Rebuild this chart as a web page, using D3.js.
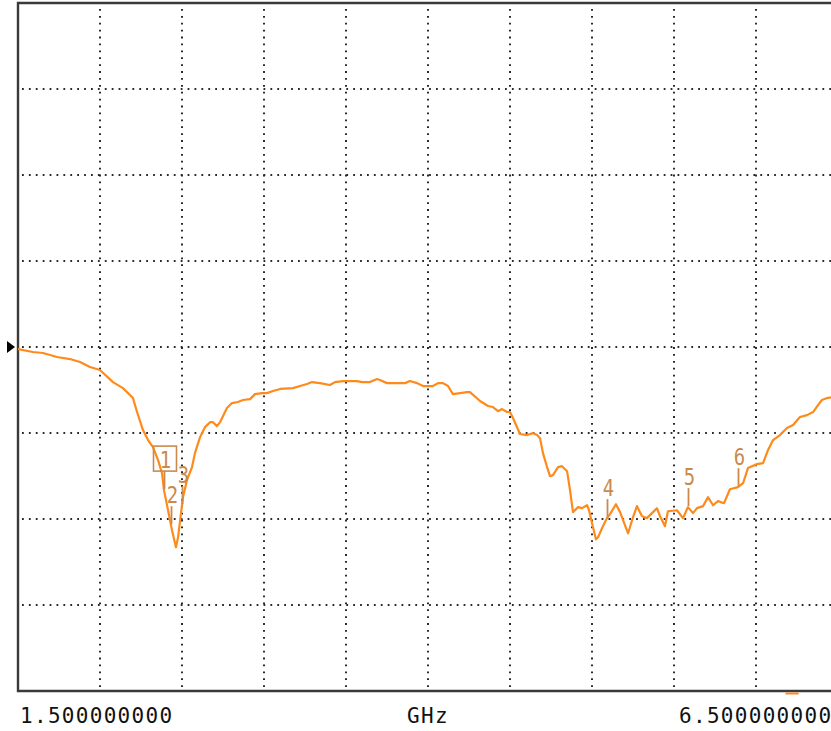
<!DOCTYPE html>
<html>
<head>
<meta charset="utf-8">
<script src="https://cdn.jsdelivr.net/npm/d3@7"></script>
<style>
  body { margin: 0; background: #fff; }
  svg { display: block; }
</style>
</head>
<body>
<div id="chart"></div>
<script>
// trace, frequency in GHz, level in dB (ref line = 0, 5 dB/div)
const freqGHz = [
  1.500, 1.591, 1.652, 1.738, 1.817, 1.878, 1.939, 2.000, 2.079, 2.140,
  2.201, 2.226, 2.262, 2.293, 2.323, 2.354, 2.378, 2.390, 2.415, 2.439,
  2.463, 2.476, 2.494, 2.506, 2.530, 2.561, 2.579, 2.610, 2.640, 2.671,
  2.689, 2.713, 2.732, 2.774, 2.805, 2.841, 2.872, 2.915, 2.945, 2.988,
  3.018, 3.055, 3.098, 3.177, 3.220, 3.262, 3.293, 3.341, 3.402, 3.433,
  3.482, 3.567, 3.598, 3.646, 3.689, 3.707, 3.750, 3.860, 3.890, 3.933,
  3.970, 4.030, 4.061, 4.091, 4.122, 4.152, 4.195, 4.238, 4.256, 4.317,
  4.366, 4.396, 4.427, 4.451, 4.482, 4.500, 4.518, 4.561, 4.604, 4.640,
  4.665, 4.683, 4.701, 4.726, 4.744, 4.762, 4.793, 4.817, 4.848, 4.866,
  4.884, 4.915, 4.939, 4.970, 4.982, 5.000, 5.024, 5.037, 5.061, 5.091,
  5.110, 5.146, 5.171, 5.220, 5.250, 5.274, 5.305, 5.335, 5.366, 5.396,
  5.415, 5.445, 5.463, 5.518, 5.555, 5.585, 5.616, 5.640, 5.677, 5.707,
  5.738, 5.768, 5.805, 5.841, 5.890, 5.921, 5.951, 6.006, 6.043, 6.073,
  6.104, 6.146, 6.189, 6.226, 6.268, 6.311, 6.348, 6.378, 6.402, 6.433,
  6.470, 6.500
]
const levelDb = [
  -0.12, -0.29, -0.35, -0.58, -0.70, -0.87, -1.16, -1.34, -2.04, -2.39,
  -2.97, -3.78, -4.83, -5.41, -5.82, -6.58, -7.33, -8.32, -9.49, -10.65,
  -11.64, -11.06, -9.66, -8.73, -7.74, -6.98, -6.17, -5.24, -4.66, -4.37,
  -4.37, -4.60, -4.37, -3.55, -3.26, -3.20, -3.08, -3.03, -2.74, -2.68,
  -2.68, -2.56, -2.44, -2.39, -2.27, -2.15, -2.04, -2.10, -2.21, -2.04,
  -1.98, -1.98, -2.04, -2.04, -1.86, -1.92, -2.10, -2.10, -1.98, -2.10,
  -2.27, -2.27, -2.10, -2.10, -2.27, -2.74, -2.68, -2.62, -2.62, -3.14,
  -3.43, -3.49, -3.73, -3.61, -3.78, -3.78, -4.13, -5.06, -5.12, -5.01,
  -5.12, -5.30, -6.17, -6.98, -7.51, -7.45, -6.98, -6.93, -7.22, -8.32,
  -9.60, -9.31, -9.37, -9.20, -9.49, -10.24, -11.18, -11.06, -10.54, -9.95,
  -9.72, -9.14, -9.60, -10.83, -9.90, -9.25, -9.84, -9.95, -9.66, -9.37,
  -9.84, -10.42, -9.55, -9.49, -9.95, -9.31, -9.66, -9.37, -9.25, -8.73,
  -9.20, -8.96, -9.08, -8.27, -8.15, -7.92, -7.04, -6.81, -6.75, -6.00,
  -5.41, -5.12, -4.71, -4.54, -4.07, -3.96, -3.78, -3.38, -3.08, -2.97,
  -2.91, -2.79
]

const markerIds = ["1", "2", "3", "4", "5", "6"]
const markerGHz = [2.390, 2.433, 2.500, 5.091, 5.585, 5.890]

const startLabel = "1.500000000"
const stopLabel = "6.500000000"
const unitLabel = "GHz"

const W = 831, H = 731
const TRACE = "#ff8a1c"
const MARK = "#c98a4c"
const MONO = "'DejaVu Sans Mono', monospace"

const svg = d3.select("#chart").append("svg")
    .attr("width", W)
    .attr("height", H)

// plot area runs off the right edge like the screenshot
const plotL = 18, plotR = 838, plotT = 3, plotB = 691

const x = d3.scaleLinear().domain([1.5, 6.5]).range([plotL, plotR])
const y = d3.scaleLinear().domain([-20, 20]).range([plotB, plotT])

//dotted grid
const grid = svg.append("g")
    .attr("stroke", "#2a2a2a")
    .attr("stroke-width", 2)
    .attr("stroke-dasharray", "1.8 5.1")

grid.selectAll("line.v")
    .data(d3.range(1, 10).map(i => 1.5 + i * 0.5))
    .join("line")
    .attr("class", "v")
    .attr("x1", d => x(d)).attr("x2", d => x(d))
    .attr("y1", plotT + 6).attr("y2", plotB)

grid.selectAll("line.h")
    .data(d3.range(1, 8).map(i => -20 + i * 5))
    .join("line")
    .attr("class", "h")
    .attr("x1", plotL + 4).attr("x2", W)
    .attr("y1", d => y(d)).attr("y2", d => y(d))

//frame
svg.append("path")
    .attr("d", `M${plotR},${plotT}H${plotL}V${plotB}H${plotR}`)
    .attr("fill", "none")
    .attr("stroke", "#3a3a3a")
    .attr("stroke-width", 2.4)

//reference level arrow
svg.append("path")
    .attr("d", `M7,${y(0) - 6}L15,${y(0)}L7,${y(0) + 6}Z`)
    .attr("fill", "#000")

//trace
const data = freqGHz.map((f, i) => ({ f: f, v: levelDb[i] }))
const line = d3.line().x(d => x(d.f)).y(d => y(d.v))

svg.append("path")
    .datum(data)
    .attr("d", line)
    .attr("fill", "none")
    .attr("stroke", TRACE)
    .attr("stroke-width", 2.2)
    .attr("stroke-linejoin", "round")

//markers
const bisect = d3.bisector(d => d.f).left
function levelAt(f) {
    let i = Math.max(1, Math.min(data.length - 1, bisect(data, f)))
    let a = data[i - 1], b = data[i]
    return a.v + (b.v - a.v) * (f - a.f) / (b.f - a.f)
}

const mk = svg.append("g")
markerIds.forEach((id, i) => {
    const mx = Math.round(x(markerGHz[i])) + 0.5
    const my = y(levelAt(markerGHz[i]))
    mk.append("line")
        .attr("x1", mx).attr("x2", mx)
        .attr("y1", my - 1).attr("y2", my - 19)
        .attr("stroke", MARK).attr("stroke-width", 1.8)
    mk.append("text")
        .attr("x", mx + 1)
        .attr("y", my - 22)
        .attr("text-anchor", "middle")
        .attr("font-family", MONO)
        .attr("font-size", 21)
        .attr("fill", MARK)
        .attr("transform", `translate(${mx + 1},${my - 22}) scale(0.9,1.1) translate(${-(mx + 1)},${-(my - 22)})`)
        .text(id)
    if (i === 0) {
        //active marker gets a box
        mk.append("rect")
            .attr("x", mx - 11).attr("y", my - 44)
            .attr("width", 23).attr("height", 25)
            .attr("fill", "none")
            .attr("stroke", MARK).attr("stroke-width", 1.6)
    }
})

//little orange tick under the axis
svg.append("line")
    .attr("x1", x(6.18)).attr("x2", x(6.26))
    .attr("y1", plotB + 2.5).attr("y2", plotB + 2.5)
    .attr("stroke", TRACE).attr("stroke-width", 2)

//axis text
const lab = svg.append("g")
    .attr("font-family", MONO)
    .attr("font-size", 21)
    .attr("fill", "#111")
    .attr("letter-spacing", 1.3)

lab.append("text").attr("x", 20).attr("y", 723).text(startLabel)
lab.append("text").attr("x", x(4)).attr("y", 723).attr("text-anchor", "middle").text(unitLabel)
lab.append("text").attr("x", 679).attr("y", 723).text(stopLabel)
</script>
</body>
</html>
